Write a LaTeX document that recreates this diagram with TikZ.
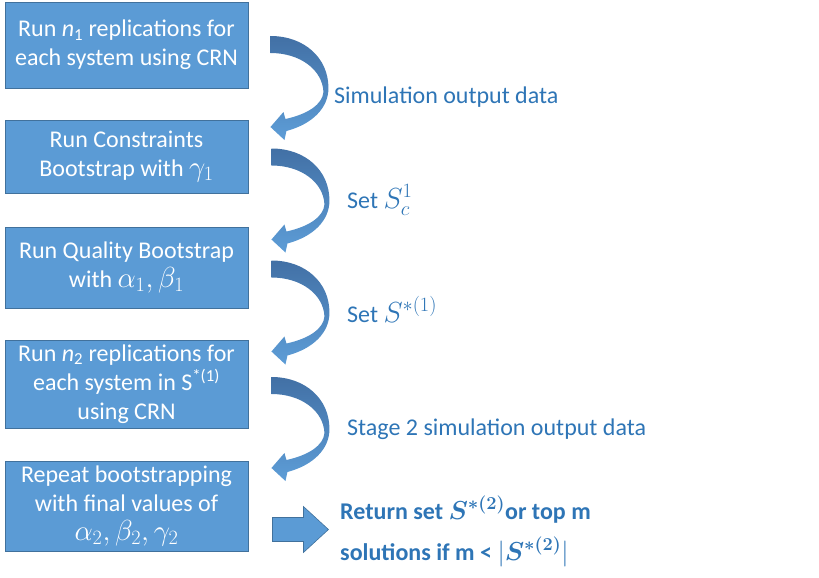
\RequirePackage{fix-cm}
\documentclass[tikz,border=0pt]{standalone}
\usepackage{bm}
\usepackage{fontspec}
\setmainfont{Carlito}
\usetikzlibrary{calc}
\definecolor{boxfill}{RGB}{91,155,213}
\definecolor{boxline}{RGB}{65,113,156}
\definecolor{txtblue}{RGB}{46,117,182}
\definecolor{arrdark}{RGB}{66,112,165}
\definecolor{arrlight}{RGB}{93,157,215}
\newcommand{\mth}[1]{{\fontsize{29}{29}\selectfont$#1$}}
\newcommand{\mthb}[1]{{\fontsize{26}{29}\selectfont$#1$}}
\tikzset{
  stepbox/.style={draw=boxline, line width=0.9pt, fill=boxfill, text=white,
    minimum width=243pt, inner sep=0pt, align=center,
    font=\fontsize{24}{29}\selectfont},
  lbl/.style={anchor=base west, inner sep=0pt, text=txtblue,
    font=\fontsize{24}{29}\selectfont},
  retlbl/.style={anchor=base west, inner sep=0pt, text=txtblue,
    font=\fontsize{24}{29}\selectfont\bfseries},
  curvarrow/.pic={
    \shade[top color=arrdark, bottom color=arrlight]
      (0,0) .. controls (34,0) and (58,22) .. (58,52)
      .. controls (58,72) and (42,88) .. (16,95)
      -- (14,104) -- (0,91) -- (13,76) -- (15,83)
      .. controls (38,78) and (52,68) .. (53,56)
      .. controls (52,34) and (30,17) .. (0,17) -- cycle;
  }
}
\begin{document}
\begin{tikzpicture}[x=1pt,y=-1pt]
\useasboundingbox (0,0) rectangle (819,578);
\node[stepbox, minimum height=86pt] (b1) at (126.5,45)
  {Run \textit{n}\textsubscript{1} replications for\\each system using CRN};
\node[stepbox, minimum height=73pt] (b2) at (126.5,156.5)
  {Run Constraints\\Bootstrap with \mth{\gamma_1}};
\node[stepbox, minimum height=81pt] (b3) at (126.5,267.5)
  {Run Quality Bootstrap\\with \mth{\alpha_1,\beta_1}};
\node[stepbox, minimum height=88pt] (b4) at (126.5,384)
  {Run \textit{n}\textsubscript{2} replications for\\each system in S\textsuperscript{*(1)}\\using CRN};
\node[stepbox, minimum height=90pt] (b5) at (126.5,506)
  {Repeat bootstrapping\\with final values of\\\mth{\alpha_2,\beta_2,\gamma_2}};

\pic at ($(b1.east)+(22,-9)$) {curvarrow};
\pic at ($(b2.east)+(23,-8)$) {curvarrow};
\pic at ($(b3.east)+(23,-7)$) {curvarrow};
\pic at ($(b4.east)+(23,-7)$) {curvarrow};

\node[lbl] (l1) at (334,103) {Simulation output data};
\node[lbl] (l2) at (347,208) {Set \mth{S_c^1}};
\node[lbl] (l3) at (347,322) {Set \mth{S^{*(1)}}};
\node[lbl] (l4) at (347,435) {Stage 2 simulation output data};

\coordinate (ra) at ($(b5.east)+(24,24)$);
\draw[fill=boxfill, draw=boxline, line width=0.6pt]
  ($(ra)+(0,-12.5)$) -- ++(31,0) -- ++(0,-11) -- ++(25,23) -- ++(-25,23)
  -- ++(0,-11) -- ++(-31,0) -- cycle;

\node[retlbl] (r1) at (340,519) {Return set \mthb{\bm{S^{*(2)}}}or top m};
\node[retlbl] (r2) at (340,560) {solutions if m < \mthb{\bigl|\bm{S^{*(2)}}\bigr|}};
\end{tikzpicture}
\end{document}
